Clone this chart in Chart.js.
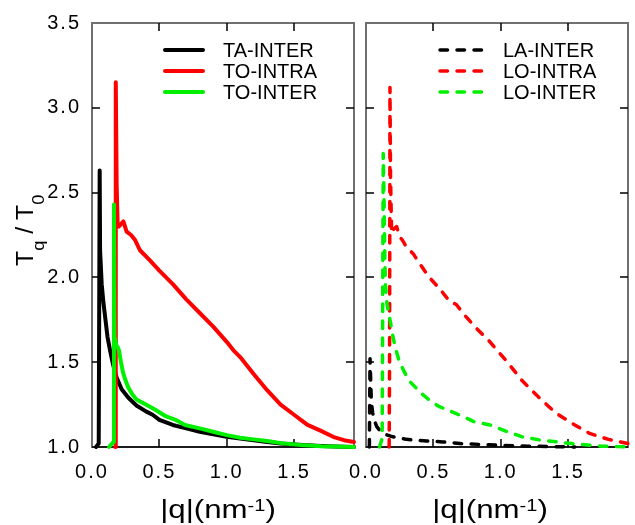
<!DOCTYPE html>
<html>
<head>
<meta charset="utf-8">
<script src="https://cdn.jsdelivr.net/npm/chart.js@4/dist/chart.umd.min.js"></script>
<style>
  html, body { margin: 0; padding: 0; background: #fff; }
  #wrap { position: relative; width: 635px; height: 525px; }
  canvas { position: absolute; top: 0; }
  #left { left: 0; }
  #right { left: 330px; }
</style>
</head>
<body>
<div id="wrap">
  <canvas id="left" width="360" height="525" style="width:360px;height:525px"></canvas>
  <canvas id="right" width="305" height="525" style="width:305px;height:525px"></canvas>
</div>
<script>
// --- axes ---
const X_MIN = 0, X_MAX = 1.945;
const Y_MIN = 1.0, Y_MAX = 3.5;
const xTickValues = [0, 0.5, 1.0, 1.5];
const yTickValues = [1.0, 1.5, 2.0, 2.5, 3.0, 3.5];

// --- left panel (solid lines) ---
const taInterQ = [0.03, 0.05, 0.057, 0.06, 0.072, 0.085, 0.1, 0.115, 0.134, 0.155, 0.183, 0.22, 0.27, 0.33, 0.4, 0.45, 0.5, 0.6, 0.7, 0.8, 0.9, 1.0, 1.1, 1.2, 1.3, 1.4, 1.5, 1.6, 1.7, 1.8, 1.945];
const taInterT = [1.0, 1.02, 2.63, 2.16, 1.96, 1.85, 1.75, 1.65, 1.57, 1.49, 1.41, 1.34, 1.29, 1.245, 1.21, 1.19, 1.16, 1.13, 1.11, 1.09, 1.075, 1.06, 1.05, 1.04, 1.03, 1.02, 1.015, 1.01, 1.006, 1.003, 1.0];

const toIntraQ = [0.172, 0.175, 0.178, 0.183, 0.19, 0.2, 0.21, 0.233, 0.257, 0.29, 0.32, 0.356, 0.43, 0.5, 0.6, 0.7, 0.8, 0.9, 1.0, 1.05, 1.1, 1.2, 1.3, 1.4, 1.5, 1.55, 1.6, 1.7, 1.79, 1.87, 1.945];
const toIntraT = [1.0, 1.5, 3.15, 2.55, 2.32, 2.3, 2.31, 2.33, 2.27, 2.25, 2.22, 2.16, 2.1, 2.04, 1.96, 1.87, 1.79, 1.71, 1.62, 1.57, 1.53, 1.43, 1.335, 1.25, 1.19, 1.16, 1.13, 1.095, 1.06, 1.04, 1.03];

const toInterQ = [0.127, 0.16, 0.163, 0.167, 0.18, 0.19, 0.2, 0.215, 0.23, 0.25, 0.27, 0.3, 0.33, 0.4, 0.47, 0.55, 0.62, 0.69, 0.8, 0.9, 1.0, 1.1, 1.2, 1.3, 1.43, 1.55, 1.7, 1.8, 1.945];
const toInterT = [1.0, 1.03, 2.43, 1.65, 1.6, 1.59, 1.57, 1.5, 1.44, 1.39, 1.35, 1.31, 1.28, 1.25, 1.22, 1.18, 1.16, 1.13, 1.11, 1.09, 1.07, 1.055, 1.045, 1.035, 1.02, 1.012, 1.005, 1.003, 1.0];

// --- right panel (dashed lines) ---
const laInterQ = [0.025, 0.03, 0.033, 0.036, 0.04, 0.05, 0.065, 0.08, 0.1, 0.13, 0.16, 0.2, 0.3, 0.45, 0.57, 0.7, 0.85, 1.0, 1.2, 1.4, 1.55];
const laInterT = [1.0, 1.52, 1.44, 1.36, 1.26, 1.2, 1.15, 1.12, 1.1, 1.08, 1.07, 1.06, 1.045, 1.035, 1.03, 1.02, 1.015, 1.01, 1.005, 1.002, 1.0];

const loIntraQ = [0.172, 0.175, 0.178, 0.182, 0.19, 0.2, 0.227, 0.25, 0.27, 0.3, 0.35, 0.4, 0.47, 0.55, 0.62, 0.67, 0.74, 0.82, 0.92, 1.05, 1.16, 1.3, 1.41, 1.55, 1.66, 1.8, 1.945];
const loIntraT = [1.0, 1.5, 3.12, 2.6, 2.26, 2.28, 2.3, 2.24, 2.22, 2.18, 2.14, 2.08, 2.0, 1.93, 1.86, 1.84, 1.77, 1.7, 1.62, 1.5, 1.39, 1.28, 1.2, 1.13, 1.08, 1.045, 1.02];

const loInterQ = [0.1, 0.12, 0.128, 0.135, 0.14, 0.145, 0.155, 0.17, 0.185, 0.2, 0.22, 0.245, 0.28, 0.32, 0.37, 0.42, 0.48, 0.54, 0.63, 0.72, 0.8, 0.92, 1.05, 1.16, 1.3, 1.53, 1.75, 1.945];
const loInterT = [1.0, 1.05, 2.73, 2.4, 2.1, 1.95, 1.85, 1.78, 1.72, 1.65, 1.58, 1.51, 1.45, 1.39, 1.35, 1.31, 1.27, 1.24, 1.21, 1.18, 1.15, 1.13, 1.09, 1.06, 1.04, 1.02, 1.005, 1.0];

const FONT = '"Liberation Sans", Arial, sans-serif';
const RED = '#ff0000', GREEN = '#00f000', BLACK = '#000000';
const DASH = [7.5, 9.5];

function lineDs(label, q, t, color, dashed, order) {
  return {
    label,
    data: q.map((v, i) => ({ x: v, y: t[i] })),
    borderColor: color,
    backgroundColor: color,
    borderWidth: dashed ? 3.5 : 4,
    borderDash: dashed ? DASH : [],
    borderCapStyle: 'round',
    borderJoinStyle: 'round',
    pointRadius: 0,
    tension: 0,
    fill: false,
    clip: 8,
    order
  };
}

// frame, inward ticks, legend, titles
const decorPlugin = {
  id: 'decor',
  beforeDraw(chart) {
    chart.ctx.letterSpacing = '2px';
  },
  beforeDatasetsDraw(chart) {
    const { ctx, chartArea: a, scales: { x, y } } = chart;
    ctx.save();
    ctx.letterSpacing = '0px';
    ctx.strokeStyle = '#707070';
    ctx.lineWidth = 2;
    ctx.strokeRect(Math.round(a.left), Math.round(a.top), Math.round(a.right - a.left), Math.round(a.bottom - a.top));
    ctx.strokeStyle = '#000';
    ctx.lineWidth = 1.5;
    ctx.beginPath();
    ctx.moveTo(a.left, a.bottom);
    ctx.lineTo(a.right, a.bottom);
    xTickValues.forEach(v => {
      if (v === X_MIN) return;
      const px = Math.round(x.getPixelForValue(v));
      ctx.moveTo(px, a.bottom); ctx.lineTo(px, a.bottom - 8);
      ctx.moveTo(px, a.top); ctx.lineTo(px, a.top + 8);
    });
    yTickValues.forEach(v => {
      if (v === Y_MIN || v === Y_MAX) return;
      const py = Math.round(y.getPixelForValue(v));
      ctx.moveTo(a.left, py); ctx.lineTo(a.left + 8, py);
      ctx.moveTo(a.right, py); ctx.lineTo(a.right - 8, py);
    });
    ctx.stroke();
    ctx.restore();
  },
  afterDraw(chart) {
    const opts = chart.options.plugins.decor;
    const { ctx, chartArea: a } = chart;
    ctx.save();
    ctx.letterSpacing = '0px';
    // legend
    const lg = opts.legend;
    chart.data.datasets.forEach((ds, i) => {
      const ly = lg.y[i];
      ctx.strokeStyle = ds.borderColor;
      ctx.lineWidth = ds.borderWidth;
      ctx.lineCap = 'round';
      ctx.setLineDash(ds.borderDash || []);
      ctx.beginPath();
      ctx.moveTo(lg.x1, ly);
      ctx.lineTo(lg.x2, ly);
      ctx.stroke();
      ctx.setLineDash([]);
      ctx.fillStyle = '#000';
      ctx.font = `20px ${FONT}`;
      ctx.textAlign = 'left';
      ctx.textBaseline = 'middle';
      ctx.fillText(ds.label, lg.tx, ly + 1);
    });

    // x title: |q|(nm^-1)
    ctx.fillStyle = '#000';
    ctx.textBaseline = 'alphabetic';
    ctx.textAlign = 'left';
    const xParts = [['|q|(nm', 25, 0], ['-1', 16, -7], [')', 25, 0]];
    const sx = 1.25;
    let w = 0;
    xParts.forEach(p => { ctx.font = `${p[1]}px ${FONT}`; w += ctx.measureText(p[0]).width; });
    const cx = (a.left + a.right) / 2 + opts.xTitleShift;
    ctx.save();
    ctx.translate(cx - w * sx / 2, 518);
    ctx.scale(sx, 1);
    let xx = 0;
    xParts.forEach(p => {
      ctx.font = `${p[1]}px ${FONT}`;
      ctx.fillText(p[0], xx, p[2]);
      xx += ctx.measureText(p[0]).width;
    });
    ctx.restore();

    // y title: T_q / T_0
    if (opts.yTitle) {
      const yParts = [['T', 23, 0], ['q', 17, 11], [' / ', 23, 0], ['T', 23, 0], ['0', 17, 11]];
      ctx.save();
      ctx.translate(33, 266);
      ctx.rotate(-Math.PI / 2);
      ctx.scale(1.08, 1);
      let yy = 0;
      yParts.forEach(p => {
        ctx.font = `${p[1]}px ${FONT}`;
        ctx.fillText(p[0], yy, p[2]);
        yy += ctx.measureText(p[0]).width;
      });
      ctx.restore();
    }
    ctx.restore();
  }
};

function makeChart(canvasId, datasets, showY, padding, decor) {
  return new Chart(document.getElementById(canvasId), {
    type: 'line',
    data: { datasets },
    plugins: [decorPlugin],
    options: {
      responsive: false,
      animation: false,
      layout: { padding },
      plugins: {
        legend: { display: false },
        tooltip: { enabled: false },
        decor
      },
      scales: {
        x: {
          type: 'linear',
          min: X_MIN,
          max: X_MAX,
          afterBuildTicks: s => { s.ticks = xTickValues.map(v => ({ value: v })); },
          afterFit: s => { s.height = 78; s.paddingLeft = 0; s.paddingRight = 0; },
          grid: { display: false, drawTicks: false },
          border: { display: false },
          ticks: {
            font: { family: FONT, size: 20 },
            color: '#000',
            padding: 13,
            maxRotation: 0,
            autoSkip: false,
            callback: v => Number(v).toFixed(1)
          }
        },
        y: {
          type: 'linear',
          display: showY,
          min: Y_MIN,
          max: Y_MAX,
          afterBuildTicks: s => { s.ticks = yTickValues.map(v => ({ value: v })); },
          afterFit: s => { s.width = showY ? 92 : 0; s.paddingTop = 0; s.paddingBottom = 0; },
          grid: { display: false, drawTicks: false },
          border: { display: false },
          ticks: {
            font: { family: FONT, size: 20 },
            color: '#000',
            padding: 11,
            autoSkip: false,
            callback: v => Number(v).toFixed(1)
          }
        }
      }
    }
  });
}

// green on top, then red, then black
makeChart('left', [
  lineDs('TA-INTER', taInterQ, taInterT, BLACK, false, 2),
  lineDs('TO-INTRA', toIntraQ, toIntraT, RED, false, 1),
  lineDs('TO-INTER', toInterQ, toInterT, GREEN, false, 0)
], true, { left: 0, right: 6, top: 23, bottom: 0 }, {
  legend: { x1: 165, x2: 203, tx: 223, y: [50, 71, 92] },
  xTitleShift: -5,
  yTitle: true
});

makeChart('right', [
  lineDs('LA-INTER', laInterQ, laInterT, BLACK, true, 2),
  lineDs('LO-INTRA', loIntraQ, loIntraT, RED, true, 1),
  lineDs('LO-INTER', loInterQ, loInterT, GREEN, true, 0)
], false, { left: 36, right: 7, top: 23, bottom: 0 }, {
  legend: { x1: 110, x2: 154, tx: 173, y: [50, 71, 92] },
  xTitleShift: -7,
  yTitle: false
});
</script>
</body>
</html>
